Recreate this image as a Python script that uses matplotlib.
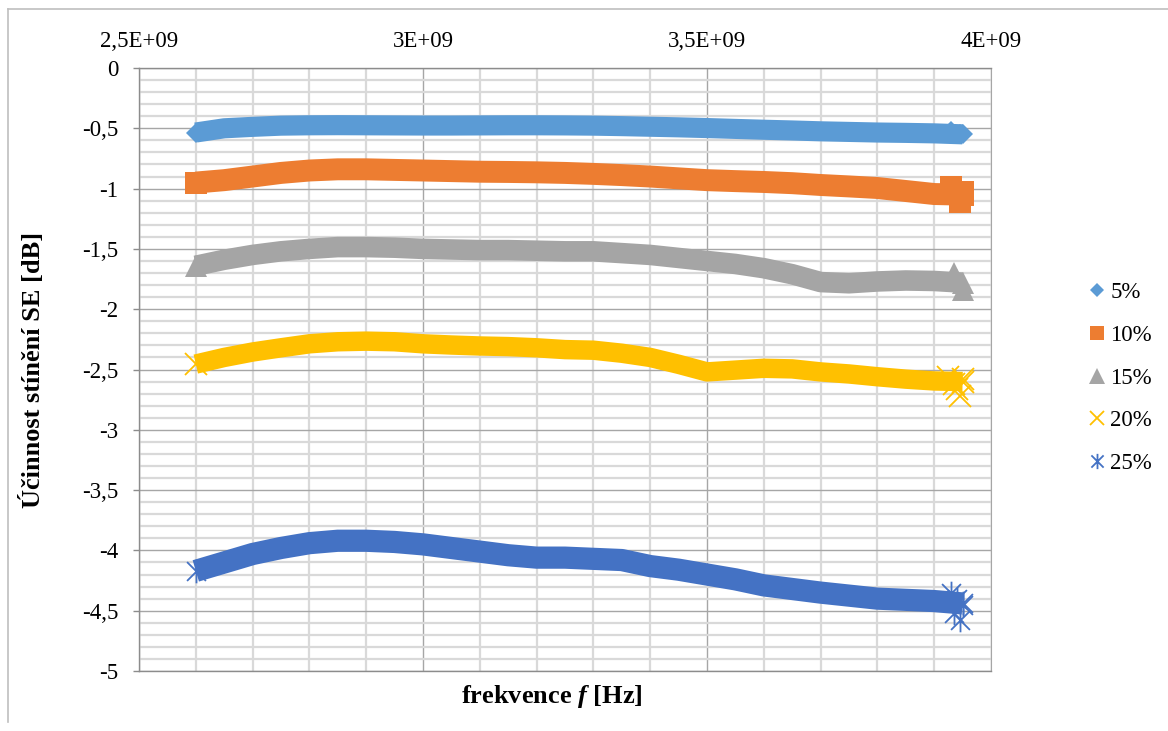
import matplotlib
matplotlib.use("Agg")
import matplotlib.pyplot as plt
from matplotlib.ticker import MultipleLocator, FuncFormatter
from matplotlib.lines import Line2D
from matplotlib.path import Path

plt.rcParams["font.family"] = ["Liberation Serif", "DejaVu Serif"]
plt.rcParams["mathtext.fontset"] = "custom"
plt.rcParams["mathtext.rm"] = "Liberation Serif"
plt.rcParams["mathtext.bf"] = "Liberation Serif:bold"
plt.rcParams["mathtext.bfit"] = "Liberation Serif:italic:bold"

# frequency grid in GHz (common to all series)
freq_ghz = [2.60, 2.65, 2.70, 2.75, 2.80, 2.85, 2.90, 2.95, 3.00, 3.05,
            3.10, 3.15, 3.20, 3.25, 3.30, 3.35, 3.40, 3.45, 3.50, 3.55,
            3.60, 3.65, 3.70, 3.75, 3.80, 3.85, 3.90, 3.95]

se_5 = [-0.535, -0.500, -0.488, -0.478, -0.475, -0.474, -0.475, -0.476, -0.477, -0.477,
        -0.476, -0.475, -0.475, -0.476, -0.478, -0.482, -0.487, -0.492, -0.498, -0.505,
        -0.512, -0.518, -0.525, -0.530, -0.535, -0.538, -0.542, -0.550]
se_10 = [-0.950, -0.930, -0.900, -0.870, -0.850, -0.840, -0.840, -0.845, -0.850, -0.855,
         -0.860, -0.862, -0.865, -0.870, -0.878, -0.888, -0.900, -0.915, -0.930, -0.938,
         -0.945, -0.955, -0.970, -0.982, -0.995, -1.020, -1.045, -1.050]
se_15 = [-1.640, -1.590, -1.550, -1.520, -1.500, -1.485, -1.485, -1.490, -1.500, -1.505,
         -1.510, -1.510, -1.515, -1.520, -1.520, -1.535, -1.550, -1.575, -1.600, -1.625,
         -1.660, -1.710, -1.775, -1.785, -1.770, -1.762, -1.766, -1.780]
se_20 = [-2.455, -2.400, -2.355, -2.320, -2.287, -2.270, -2.265, -2.270, -2.287, -2.297,
         -2.305, -2.310, -2.320, -2.335, -2.340, -2.365, -2.400, -2.457, -2.520, -2.505,
         -2.490, -2.495, -2.520, -2.537, -2.560, -2.580, -2.595, -2.600]
se_25 = [-4.170, -4.100, -4.030, -3.980, -3.940, -3.920, -3.920, -3.930, -3.950, -3.980,
         -4.010, -4.040, -4.060, -4.060, -4.070, -4.080, -4.130, -4.160, -4.200, -4.240,
         -4.290, -4.320, -4.350, -4.375, -4.400, -4.410, -4.420, -4.440]

# last few noisy samples at the top of the band
tail_f_5 = [3.930, 3.945]
tail_5 = [-0.525, -0.550]
tail_f_10 = [3.930, 3.945, 3.950]
tail_10 = [-0.990, -1.110, -1.030]
tail_f_15 = [3.935, 3.940, 3.950]
tail_15 = [-1.700, -1.760, -1.840]
tail_f_20 = [3.925, 3.935, 3.940, 3.945, 3.950]
tail_20 = [-2.560, -2.620, -2.660, -2.720, -2.580]
tail_f_25 = [3.930, 3.935, 3.940, 3.945, 3.950]
tail_25 = [-4.350, -4.520, -4.400, -4.580, -4.450]

labels = ["5%", "10%", "15%", "20%", "25%"]
colors = ["#5B9BD5", "#ED7D31", "#A5A5A5", "#FFC000", "#4472C4"]

# asterisk marker: vertical stroke plus two diagonals
asterisk = Path([(0, -1), (0, 1), (-0.8, -0.8), (0.8, 0.8), (-0.8, 0.8), (0.8, -0.8)],
                [Path.MOVETO, Path.LINETO, Path.MOVETO, Path.LINETO, Path.MOVETO, Path.LINETO])

markers = ["D", "s", "^", "x", asterisk]
band_lw = [14.5, 15.8, 14.8, 14.0, 16.0]
mark_ms = [10.2, 15.5, 15.5, 16.0, 17.0]
legend_ms = [7.5, 10.5, 11.0, 10.0, 11.0]
filled = [True, True, True, False, False]

series = [se_5, se_10, se_15, se_20, se_25]
tails = [(tail_f_5, tail_5), (tail_f_10, tail_10), (tail_f_15, tail_15),
         (tail_f_20, tail_20), (tail_f_25, tail_25)]

W, H = 1168, 731
fig = plt.figure(figsize=(W / 100, H / 100), dpi=100)
ax = fig.add_axes([139 / W, 1 - 671 / H, (991 - 139) / W, (671 - 68) / H])

for vals, (tf, tv), c, m, lw, ms, fill in zip(series, tails, colors, markers, band_lw, mark_ms, filled):
    x = [f * 1e9 for f in freq_ghz]
    ax.plot(x, vals, color=c, lw=lw, solid_capstyle="butt", solid_joinstyle="round", zorder=3)
    kw = dict(markerfacecolor=c, markeredgecolor=c, markeredgewidth=0) if fill else \
        dict(markerfacecolor="none", markeredgecolor=c, markeredgewidth=1.3)
    ax.plot([x[0], x[-1]], [vals[0], vals[-1]], ls="none", marker=m, markersize=ms, zorder=4, **kw)
    ax.plot([f * 1e9 for f in tf], tv, ls="none", marker=m, markersize=ms, zorder=4, **kw)

ax.set_xlim(2.5e9, 4.0e9)
ax.set_ylim(-5, 0)
ax.xaxis.set_major_locator(MultipleLocator(0.5e9))
ax.xaxis.set_minor_locator(MultipleLocator(0.1e9))
ax.yaxis.set_major_locator(MultipleLocator(0.5))
ax.yaxis.set_minor_locator(MultipleLocator(0.1))


def fmt_x(v, pos):
    return f"{v / 1e9:g}".replace(".", ",") + "E+09"


def fmt_y(v, pos):
    s = f"{v:g}".replace(".", ",")
    return "0" if s == "-0" else s


ax.xaxis.set_major_formatter(FuncFormatter(fmt_x))
ax.yaxis.set_major_formatter(FuncFormatter(fmt_y))
ax.xaxis.tick_top()
ax.tick_params(axis="x", which="both", length=0, pad=11.5, labelsize=16.5)
ax.tick_params(axis="y", which="major", direction="out", length=4.5, width=1,
               color="#8c8c8c", pad=10.5, labelsize=16.5)
ax.tick_params(axis="y", which="minor", length=0)

ax.set_axisbelow(True)
ax.grid(which="minor", color="#d9d9d9", lw=1.6)
ax.grid(which="major", color="#a6a6a6", lw=1.0)
for side in ["left", "top", "bottom"]:
    ax.spines[side].set_color("#8c8c8c")
    ax.spines[side].set_linewidth(1.0)
ax.spines["right"].set_color("#a6a6a6")

fig.text(33 / W, 1 - 370 / H, "Účinnost stínění SE [dB]", rotation=90,
         ha="center", va="center", fontsize=19, fontweight="bold")
fig.text(552 / W, 1 - 697 / H, r"frekvence $\mathbfit{f}$ [Hz]",
         ha="center", va="center", fontsize=19, fontweight="bold")

handles = []
for c, m, ms, fill in zip(colors, markers, legend_ms, filled):
    kw = dict(markerfacecolor=c, markeredgecolor=c, markeredgewidth=0) if fill else \
        dict(markerfacecolor="none", markeredgecolor=c, markeredgewidth=1.3)
    handles.append(Line2D([], [], ls="none", marker=m, markersize=ms, **kw))
fig.legend(handles, labels, loc="upper left", bbox_to_anchor=(1086 / W, 1 - 282 / H),
           frameon=False, fontsize=16.5, handlelength=1.0, handletextpad=0.05,
           labelspacing=0.95, borderpad=0, borderaxespad=0)

# chart border
fig.add_artist(Line2D([8 / W, 1.0], [1 - 9 / H, 1 - 9 / H], color="#bfbfbf", lw=1.2))
fig.add_artist(Line2D([8 / W, 8 / W], [1 - 9 / H, 1 - 722 / H], color="#bfbfbf", lw=1.2))

fig.savefig("out.png", dpi=100)
